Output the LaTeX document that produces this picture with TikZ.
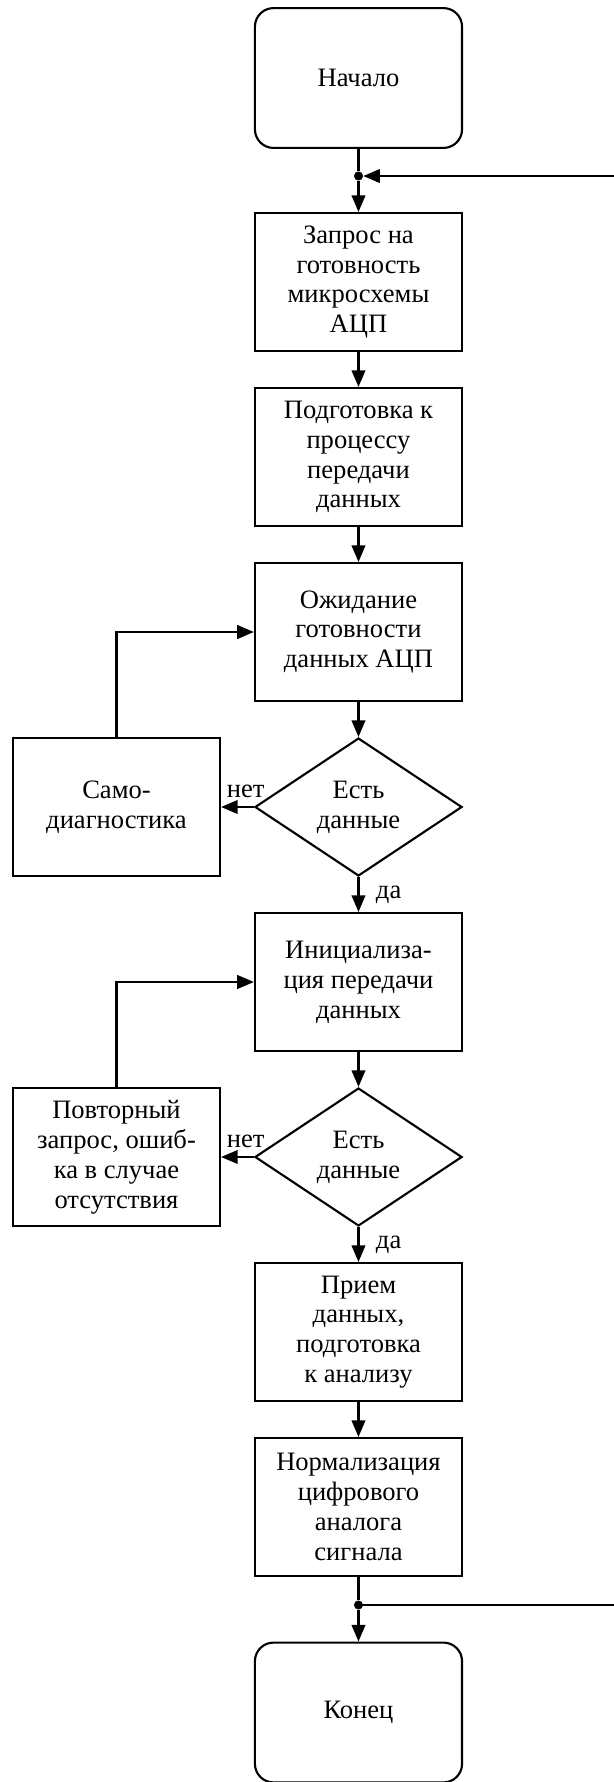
\documentclass[tikz,border=0pt]{standalone}
\usepackage{fontspec}
\setmainfont{Liberation Serif}
\usetikzlibrary{arrows.meta,positioning,calc,shapes.geometric}
\definecolor{FlowInk}{HTML}{000000}
\newcommand{\flowfont}{\fontsize{20}{22.5}\selectfont}
\tikzset{
  termbox/.style={draw=FlowInk, rounded corners=14pt, line width=1.6pt, align=center,
                  font=\flowfont\color{FlowInk}, minimum width=5.48cm, minimum height=3.70cm},
  procbox/.style={draw=FlowInk, line width=1.6pt, align=center, inner sep=0pt,
                  font=\flowfont\color{FlowInk}, minimum width=5.48cm, minimum height=3.65cm},
  decbox/.style={diamond, draw=FlowInk, line width=1.6pt, align=center, inner sep=0pt,
                 font=\flowfont\color{FlowInk}, minimum width=5.48cm, minimum height=3.65cm},
  arrow/.style={-{Triangle[length=4.4mm,width=3.6mm]}, line width=1.6pt, FlowInk},
  link/.style={line width=1.6pt, FlowInk},
  joint/.style={circle, fill=FlowInk, inner sep=0pt, minimum size=2.4mm},
  answer/.style={font=\flowfont\color{FlowInk}, inner sep=1pt},
}

\begin{document}
\begin{tikzpicture}
  \useasboundingbox (0,0) rectangle (16.245,-47.149);

  % main column
  \node[termbox] (start) at (9.485,-2.064) {Начало};
  \node[joint]   (jin)   at (9.485,-4.657) {};
  \node[procbox] (query) at (9.485,-7.461) {Запрос на\\готовность\\микросхемы\\АЦП};
  \node[procbox] (prep)  at (9.485,-12.091) {Подготовка к\\процессу\\передачи\\данных};
  \node[procbox] (wait)  at (9.485,-16.722) {Ожидание\\готовности\\данных АЦП};
  \node[decbox]  (have1) at (9.485,-21.352) {Есть\\данные};
  \node[procbox] (init)  at (9.485,-25.982) {Инициализа-\\ция передачи\\данных};
  \node[decbox]  (have2) at (9.485,-30.612) {Есть\\данные};
  \node[procbox] (recv)  at (9.485,-35.243) {Прием\\данных,\\подготовка\\к анализу};
  \node[procbox] (norm)  at (9.485,-39.873) {Нормализация\\цифрового\\аналога\\сигнала};
  \node[joint]   (jout)  at (9.485,-42.466) {};
  \node[termbox] (stop)  at (9.485,-45.310) {Конец};

  % side column
  \node[procbox] (diag)  at (3.082,-21.352) {Само-\\диагностика};
  \node[procbox] (retry) at (3.082,-30.612) {Повторный\\запрос, ошиб-\\ка в случае\\отсутствия};

  % loop ends at the right edge
  \coordinate (backin)  at (16.3,-4.657);
  \coordinate (backout) at (16.3,-42.466);

  \draw[link]  (start) -- (jin);
  \draw[arrow] (backin) -- (jin);
  \draw[arrow] (jin) -- (query);
  \draw[arrow] (query) -- (prep);
  \draw[arrow] (prep) -- (wait);
  \draw[arrow] (wait) -- (have1);
  \draw[arrow] (have1.west) -- node[answer, above=5pt, pos=0.25] {нет} (diag.east);
  \draw[arrow] (diag.north) |- (wait.west);
  \draw[arrow] (have1.south) -- node[answer, right=0.4cm] {да} (init.north);
  \draw[arrow] (init) -- (have2);
  \draw[arrow] (have2.west) -- node[answer, above=5pt, pos=0.25] {нет} (retry.east);
  \draw[arrow] (retry.north) |- (init.west);
  \draw[arrow] (have2.south) -- node[answer, right=0.4cm] {да} (recv.north);
  \draw[arrow] (recv) -- (norm);
  \draw[link]  (norm) -- (jout);
  \draw[link]  (jout) -- (backout);
  \draw[arrow] (jout) -- (stop);
\end{tikzpicture}
\end{document}
